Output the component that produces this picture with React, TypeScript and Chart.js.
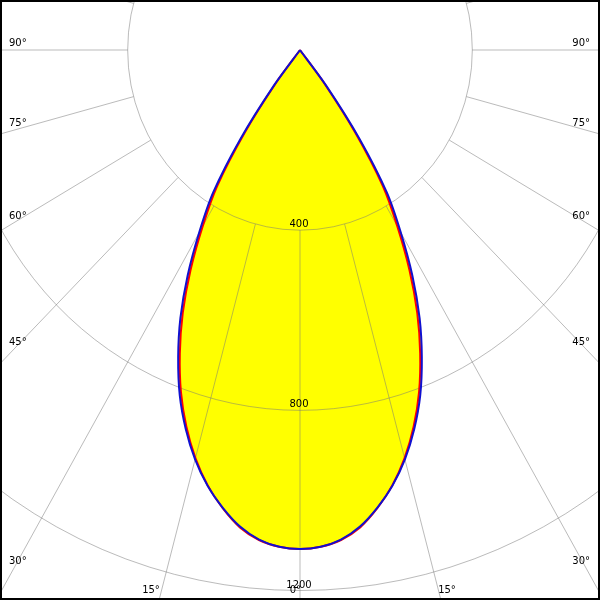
import React, { useEffect, useRef } from "react";
import { Chart, registerables } from "chart.js";

Chart.register(...registerables);

// Polar angles (degrees from nadir) at which intensities are read
const angleSteps = [0, 2.5, 5, 7.5, 10, 12.5, 15, 17.5, 20, 22.5, 25, 27.5, 30, 32.5, 35, 37.5, 40];
// C90-C270 plane (blue), cd/klm
const blueCd = [1108, 1104, 1091, 1067, 1032, 991, 941, 882, 816, 739, 657, 565, 468, 375, 241, 101, 0];
// C0-C180 plane (red), cd/klm
const redCd = [1108, 1104, 1092, 1069, 1033, 990, 938, 877, 808, 729, 644, 550, 452, 358, 224, 88, 0];

// Grid
const ringValues = [400, 800, 1200];
const ringLabels = ["400", "800", "1200"];
const labelAngles = [90, 75, 60, 45, 30];
const bottomLabelAngles = [15];
const gridAngleStep = 15;

const FONT = '10px "DejaVu Sans", sans-serif';

function polar(deg: number, r: number) {
  const a = (deg * Math.PI) / 180;
  return { x: r * Math.sin(a), y: -r * Math.cos(a) };
}

function buildCurve(vals: number[]) {
  const pts: { x: number; y: number }[] = [];
  for (let i = angleSteps.length - 1; i >= 0; i--) pts.push(polar(-angleSteps[i], vals[i]));
  for (let i = 1; i < angleSteps.length; i++) pts.push(polar(angleSteps[i], vals[i]));
  return pts;
}

const gridPlugin = {
  id: "polarGrid",
  afterDatasetDraw(chart: any, args: any) {
    if (args.index !== 0) return;
    const ctx = chart.ctx;
    const xs = chart.scales.x;
    const ys = chart.scales.y;
    const cx = xs.getPixelForValue(0);
    const cy = ys.getPixelForValue(0);
    const px = (deg: number, r: number) => {
      const p = polar(deg, r);
      return { x: xs.getPixelForValue(p.x), y: ys.getPixelForValue(p.y) };
    };
    ctx.save();
    ctx.strokeStyle = "rgba(120,120,120,0.5)";
    ctx.lineWidth = 1;
    // rings
    for (const v of ringValues) {
      const rx = xs.getPixelForValue(v) - cx;
      const ry = cy - ys.getPixelForValue(v);
      ctx.beginPath();
      ctx.ellipse(cx, cy, rx, ry, 0, 0, Math.PI * 2);
      ctx.stroke();
    }
    // radial lines from the first ring outward
    for (let d = 0; d < 360; d += gridAngleStep) {
      const a = px(d, ringValues[0]);
      const b = px(d, 4000);
      ctx.beginPath();
      ctx.moveTo(a.x, a.y);
      ctx.lineTo(b.x, b.y);
      ctx.stroke();
    }
    ctx.restore();

    ctx.save();
    ctx.fillStyle = "#000";
    ctx.font = FONT;
    ctx.textBaseline = "alphabetic";
    // side angle labels
    const W = chart.width;
    const H = chart.height;
    for (const d of labelAngles) {
      for (const side of [-1, 1]) {
        const p = px(side * d, 1000);
        const dx = p.x - cx;
        const dy = p.y - cy;
        const xRef = side < 0 ? 14 : W - 14;
        const yAt = cy + (dy * (xRef - cx)) / dx;
        ctx.textAlign = side < 0 ? "left" : "right";
        ctx.fillText(d + "°", side < 0 ? 9 : W - 10, yAt - 4);
      }
    }
    // bottom labels
    const baseY = H - 7;
    for (const d of bottomLabelAngles) {
      for (const side of [-1, 1]) {
        const p = px(side * d, 1000);
        const dx = p.x - cx;
        const dy = p.y - cy;
        const xAt = cx + (dx * (baseY - cy)) / dy;
        ctx.textAlign = side < 0 ? "right" : "left";
        ctx.fillText(d + "°", xAt - 1, baseY);
      }
    }
    ctx.textAlign = "right";
    ctx.fillText("0°", cx + 1, baseY);
    // ring labels
    ctx.textAlign = "center";
    ringValues.forEach((v, i) => {
      const y = ys.getPixelForValue(-v);
      ctx.fillText(ringLabels[i], cx - 1, y - 3);
    });
    ctx.restore();
  },
  afterDraw(chart: any) {
    const ctx = chart.ctx;
    const W = chart.width;
    const H = chart.height;
    ctx.save();
    ctx.fillStyle = "#000";
    ctx.fillRect(0, 0, W, 2);
    ctx.fillRect(0, H - 2, W, 2);
    ctx.fillRect(0, 0, 2, H);
    ctx.fillRect(W - 2, 0, 2, H);
    ctx.restore();
  },
};

export default function App() {
  const ref = useRef<HTMLCanvasElement | null>(null);
  useEffect(() => {
    if (!ref.current) return;
    const bluePts = buildCurve(blueCd);
    const redPts = buildCurve(redCd);
    const chart = new Chart(ref.current, {
      type: "scatter",
      data: {
        datasets: [
          {
            label: "fill",
            data: bluePts,
            showLine: true,
            fill: "shape",
            backgroundColor: "#ffff00",
            borderWidth: 0,
            borderColor: "rgba(0,0,0,0)",
            pointRadius: 0,
            tension: 0.25,
            order: 3,
          } as any,
          {
            label: "C0-C180",
            data: redPts,
            showLine: true,
            fill: false,
            borderColor: "#ff0000",
            borderWidth: 2,
            pointRadius: 0,
            tension: 0.25,
            order: 2,
          },
          {
            label: "C90-C270",
            data: bluePts,
            showLine: true,
            fill: false,
            borderColor: "#1010d0",
            borderWidth: 2,
            pointRadius: 0,
            tension: 0.25,
            order: 1,
          },
        ],
      },
      options: {
        responsive: false,
        animation: false,
        events: [],
        layout: { padding: 0 },
        scales: {
          x: { type: "linear", min: -696.4, max: 696.4, display: false },
          y: { type: "linear", min: -1221, max: 111, display: false },
        },
        plugins: {
          legend: { display: false },
          tooltip: { enabled: false },
        },
      },
      plugins: [gridPlugin],
    });
    return () => chart.destroy();
  }, []);
  return (
    <div style={{ position: "fixed", left: 0, top: 0, width: 600, height: 600, background: "#fff" }}>
      <canvas ref={ref} width={600} height={600} style={{ display: "block" }} />
    </div>
  );
}
